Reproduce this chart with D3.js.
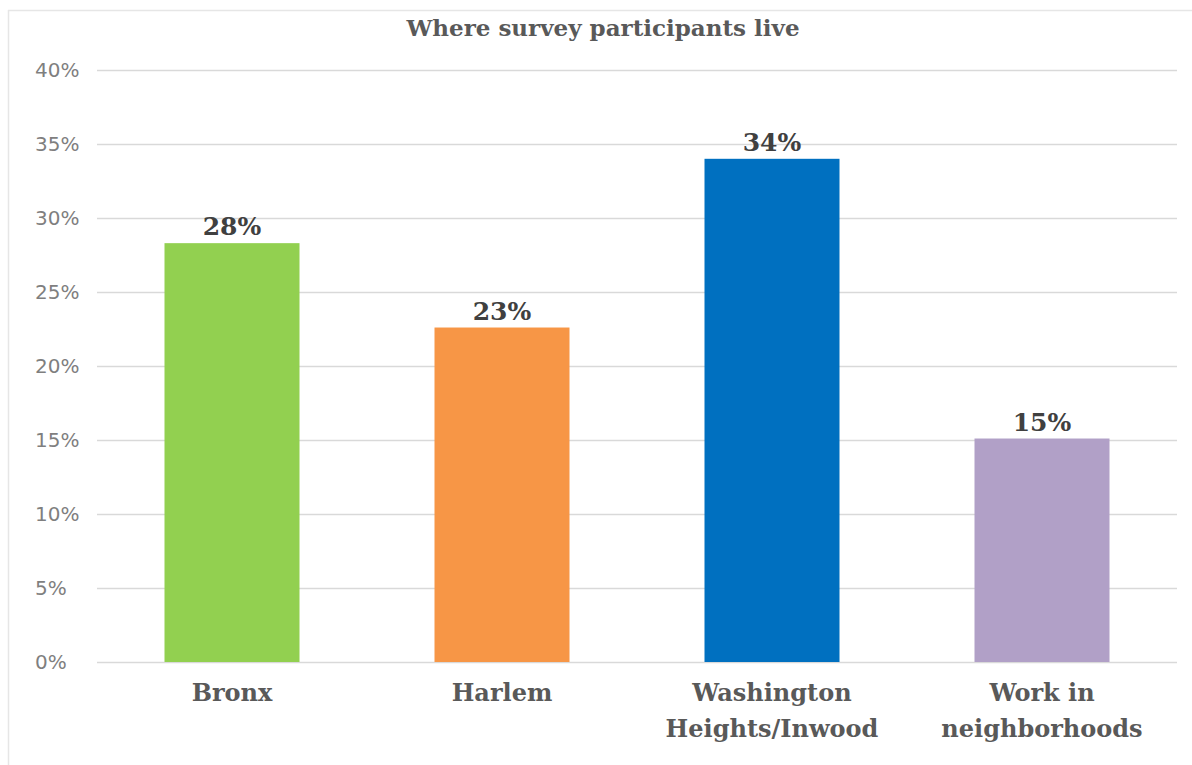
<!DOCTYPE html>
<html>
<head>
<meta charset="utf-8">
<script src="https://cdn.jsdelivr.net/npm/d3@7"></script>
<style>
  body { margin: 0; background: #fff; }
  .serif { font-family: "DejaVu Serif", serif; font-weight: bold; }
  .tick text { font-family: "DejaVu Sans", sans-serif; }
</style>
</head>
<body>
<div id="chart"></div>
<script>
// categories and values (%)
var categories = ["Bronx", "Harlem", "Washington Heights/Inwood", "Work in neighborhoods"];
var catLines = [["Bronx"], ["Harlem"], ["Washington", "Heights/Inwood"], ["Work in", "neighborhoods"]];
var values = [28.3, 22.6, 34.0, 15.1];
var labels = ["28%", "23%", "34%", "15%"];
var colors = ["#92D050", "#F79646", "#0070C0", "#B1A0C7"];
var yTicks = [0, 5, 10, 15, 20, 25, 30, 35, 40];

var w = 1192;
var h = 765;
var plotLeft = 97, plotRight = 1177, plotTop = 70, plotBottom = 662;

var svg = d3.select("#chart")
            .append("svg")
            .attr("width", w)
            .attr("height", h);

// chart frame (only top and left edges visible in the picture)
svg.append("line")
    .attr("x1", 8).attr("x2", w).attr("y1", 10.5).attr("y2", 10.5)
    .attr("stroke", "#e6e6e6").attr("stroke-width", 1.5);
svg.append("line")
    .attr("x1", 8.5).attr("x2", 8.5).attr("y1", 10).attr("y2", h)
    .attr("stroke", "#e6e6e6").attr("stroke-width", 1.5);

var xscale = d3.scaleBand()
                .domain(categories)
                .range([plotLeft, plotRight])
                .paddingInner(0.5)
                .paddingOuter(0.25);

var yscale = d3.scaleLinear()
                .domain([0, 40])
                .range([plotBottom, plotTop]);

// gridlines + y labels
var yaxis = d3.axisLeft(yscale)
                .tickValues(yTicks)
                .tickSize(-(plotRight - plotLeft))
                .tickFormat(function(d) { return d + "%"; });

var gy = svg.append("g")
    .attr("class", "y axis")
    .attr("transform", "translate(" + plotLeft + ",0)")
    .call(yaxis);

gy.select(".domain").remove();
gy.selectAll(".tick line")
    .attr("stroke", "#d9d9d9")
    .attr("stroke-width", 1.5);
// labels are left aligned in the original
gy.selectAll(".tick text")
    .attr("x", 35 - plotLeft)
    .attr("text-anchor", "start")
    .attr("fill", "#7f7f7f")
    .style("font-size", "20px");

// bars
svg.append("g")
    .selectAll("rect")
    .data(values)
    .enter()
    .append("rect")
    .attr("x", function(d, i) { return xscale(categories[i]); })
    .attr("y", function(d) { return yscale(d); })
    .attr("width", xscale.bandwidth())
    .attr("height", function(d) { return yscale(0) - yscale(d); })
    .attr("fill", function(d, i) { return colors[i]; });

// value labels
svg.append("g")
    .selectAll("text")
    .data(values)
    .enter()
    .append("text")
    .attr("class", "serif")
    .attr("x", function(d, i) { return xscale(categories[i]) + xscale.bandwidth() / 2; })
    .attr("y", function(d) { return yscale(d) - 8; })
    .attr("text-anchor", "middle")
    .attr("fill", "#404040")
    .style("font-size", "25px")
    .text(function(d, i) { return labels[i]; });

// category labels
var cat = svg.append("g")
    .selectAll("text")
    .data(catLines)
    .enter()
    .append("text")
    .attr("class", "serif")
    .attr("x", function(d, i) { return xscale(categories[i]) + xscale.bandwidth() / 2; })
    .attr("y", 701)
    .attr("text-anchor", "middle")
    .attr("fill", "#595959")
    .style("font-size", "24px");

cat.selectAll("tspan")
    .data(function(d) { return d; })
    .enter()
    .append("tspan")
    .attr("x", function() { return d3.select(this.parentNode).attr("x"); })
    .attr("dy", function(d, i) { return i === 0 ? 0 : 36; })
    .text(function(d) { return d; });

// title
svg.append("text")
    .attr("class", "serif")
    .attr("x", 603)
    .attr("y", 36)
    .attr("text-anchor", "middle")
    .attr("fill", "#595959")
    .style("font-size", "23px")
    .text("Where survey participants live");
</script>
</body>
</html>
